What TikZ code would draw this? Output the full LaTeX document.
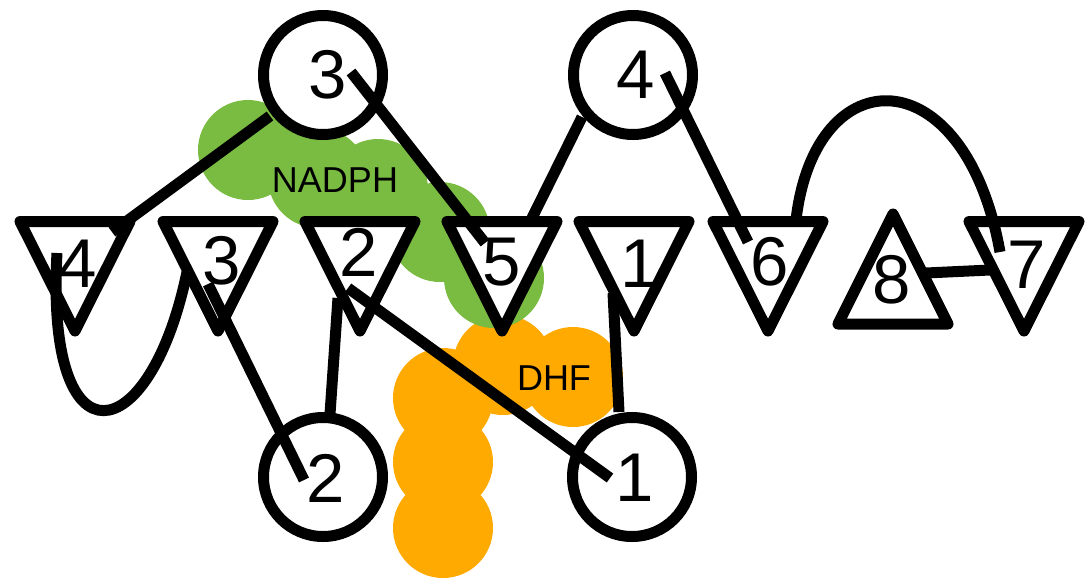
\documentclass[tikz,border=0pt]{standalone}
\usepackage{fontspec}
\setmainfont{Liberation Sans}
\definecolor{nadph}{RGB}{122,187,66}
\definecolor{dhf}{RGB}{255,170,0}
\newcommand\downtri[2]{%
  \draw[tri] (#1-55,221.5) -- (#1+55,221.5) -- (#1,331) -- cycle;
  \coordinate (#2) at (#1,258);}
\begin{document}
\begin{tikzpicture}[x=1pt,y=-1pt,
  ln/.style={line width=11pt, line cap=butt},
  cnode/.style={circle, draw, fill=white, line width=11pt, minimum size=119pt, inner sep=0pt},
  tri/.style={draw, fill=white, line width=11pt, line join=round},
  digit/.style={font=\fontsize{69}{80}\selectfont, inner sep=0pt},
  blobtext/.style={font=\fontsize{36}{40}\selectfont, inner sep=0pt},
  ]
\useasboundingbox (0,0) rectangle (1087,579);
% DHF blob
\fill[dhf] (503,365) circle[radius=50pt] (573,377) circle[radius=50pt]
  (443,398) circle[radius=50pt] (443,462) circle[radius=50pt] (443,528) circle[radius=50pt];
% NADPH blob
\fill[nadph] (248,150) circle[radius=50pt] (318,178) circle[radius=50pt]
  (378,189) circle[radius=50pt] (440,232) circle[radius=50pt] (494,278) circle[radius=50pt];
\node[blobtext] (nadph) at (335,180) {NADPH};
\node[blobtext] (dhf) at (554,378) {DHF};
% circles
\node[cnode] (c3) at (323,75) {};
\node[cnode] (c4) at (633,75) {};
\node[cnode] (c2) at (323,477) {};
\node[cnode] (c1) at (632,477) {};
% triangles
\downtri{75}{t4}
\downtri{218}{t3}
\downtri{360}{t2}
\downtri{502}{t5}
\downtri{634}{t1}
\downtri{768}{t6}
\downtri{1024}{t7}
\draw[tri] (893,214) -- (948,324) -- (838,324) -- cycle;
\coordinate (t8) at (893,280);
% connector end points
\coordinate (c3a) at (270,116); \coordinate (t4a) at (112,232);
\coordinate (c3b) at (351,72);  \coordinate (t5a) at (485,243);
\coordinate (c4a) at (582,117); \coordinate (t5b) at (532,218);
\coordinate (c4b) at (665,73);  \coordinate (t6a) at (748,242);
\coordinate (t6b) at (796,220); \coordinate (t7a) at (1000,252);
\coordinate (t8a) at (926,273); \coordinate (t7b) at (990,270);
\coordinate (t4b) at (57,253);  \coordinate (t3a) at (187,272);
\coordinate (t3b) at (208,284); \coordinate (c2a) at (304,480);
\coordinate (t2a) at (338,298); \coordinate (c2b) at (330,414);
\coordinate (t2b) at (348,288); \coordinate (c1a) at (610,478);
\coordinate (t1a) at (613,293); \coordinate (c1b) at (619,412);
% connectors
\draw[ln] (c3a) -- (t4a);
\draw[ln] (c3b) -- (t5a);
\draw[ln] (c4a) -- (t5b);
\draw[ln] (c4b) -- (t6a);
\draw[ln] (t6b) .. controls (815,56) and (965,56) .. (t7a);
\draw[ln] (t8a) -- (t7b);
\draw[ln] (t4b) .. controls (45,470) and (150,450) .. (t3a);
\draw[ln] (t3b) -- (c2a);
\draw[ln] (t2a) -- (c2b);
\draw[ln] (t2b) -- (c1a);
\draw[ln] (t1a) -- (c1b);
% digits
\node[digit] (d-c3) at (328,75) {3};
\node[digit] (d-c4) at (636,75) {4};
\node[digit] (d-c2) at (326,478) {2};
\node[digit] (d-c1) at (635,478) {1};
\node[digit] (d-t4) at (78,264) {4};
\node[digit] (d-t3) at (222,261) {3};
\node[digit] (d-t2) at (359,252) {2};
\node[digit] (d-t5) at (502,262) {5};
\node[digit] (d-t1) at (640,264) {1};
\node[digit] (d-t6) at (770,262) {6};
\node[digit] (d-t8) at (892,280) {8};
\node[digit] (d-t7) at (1027,265) {7};
\end{tikzpicture}
\end{document}
